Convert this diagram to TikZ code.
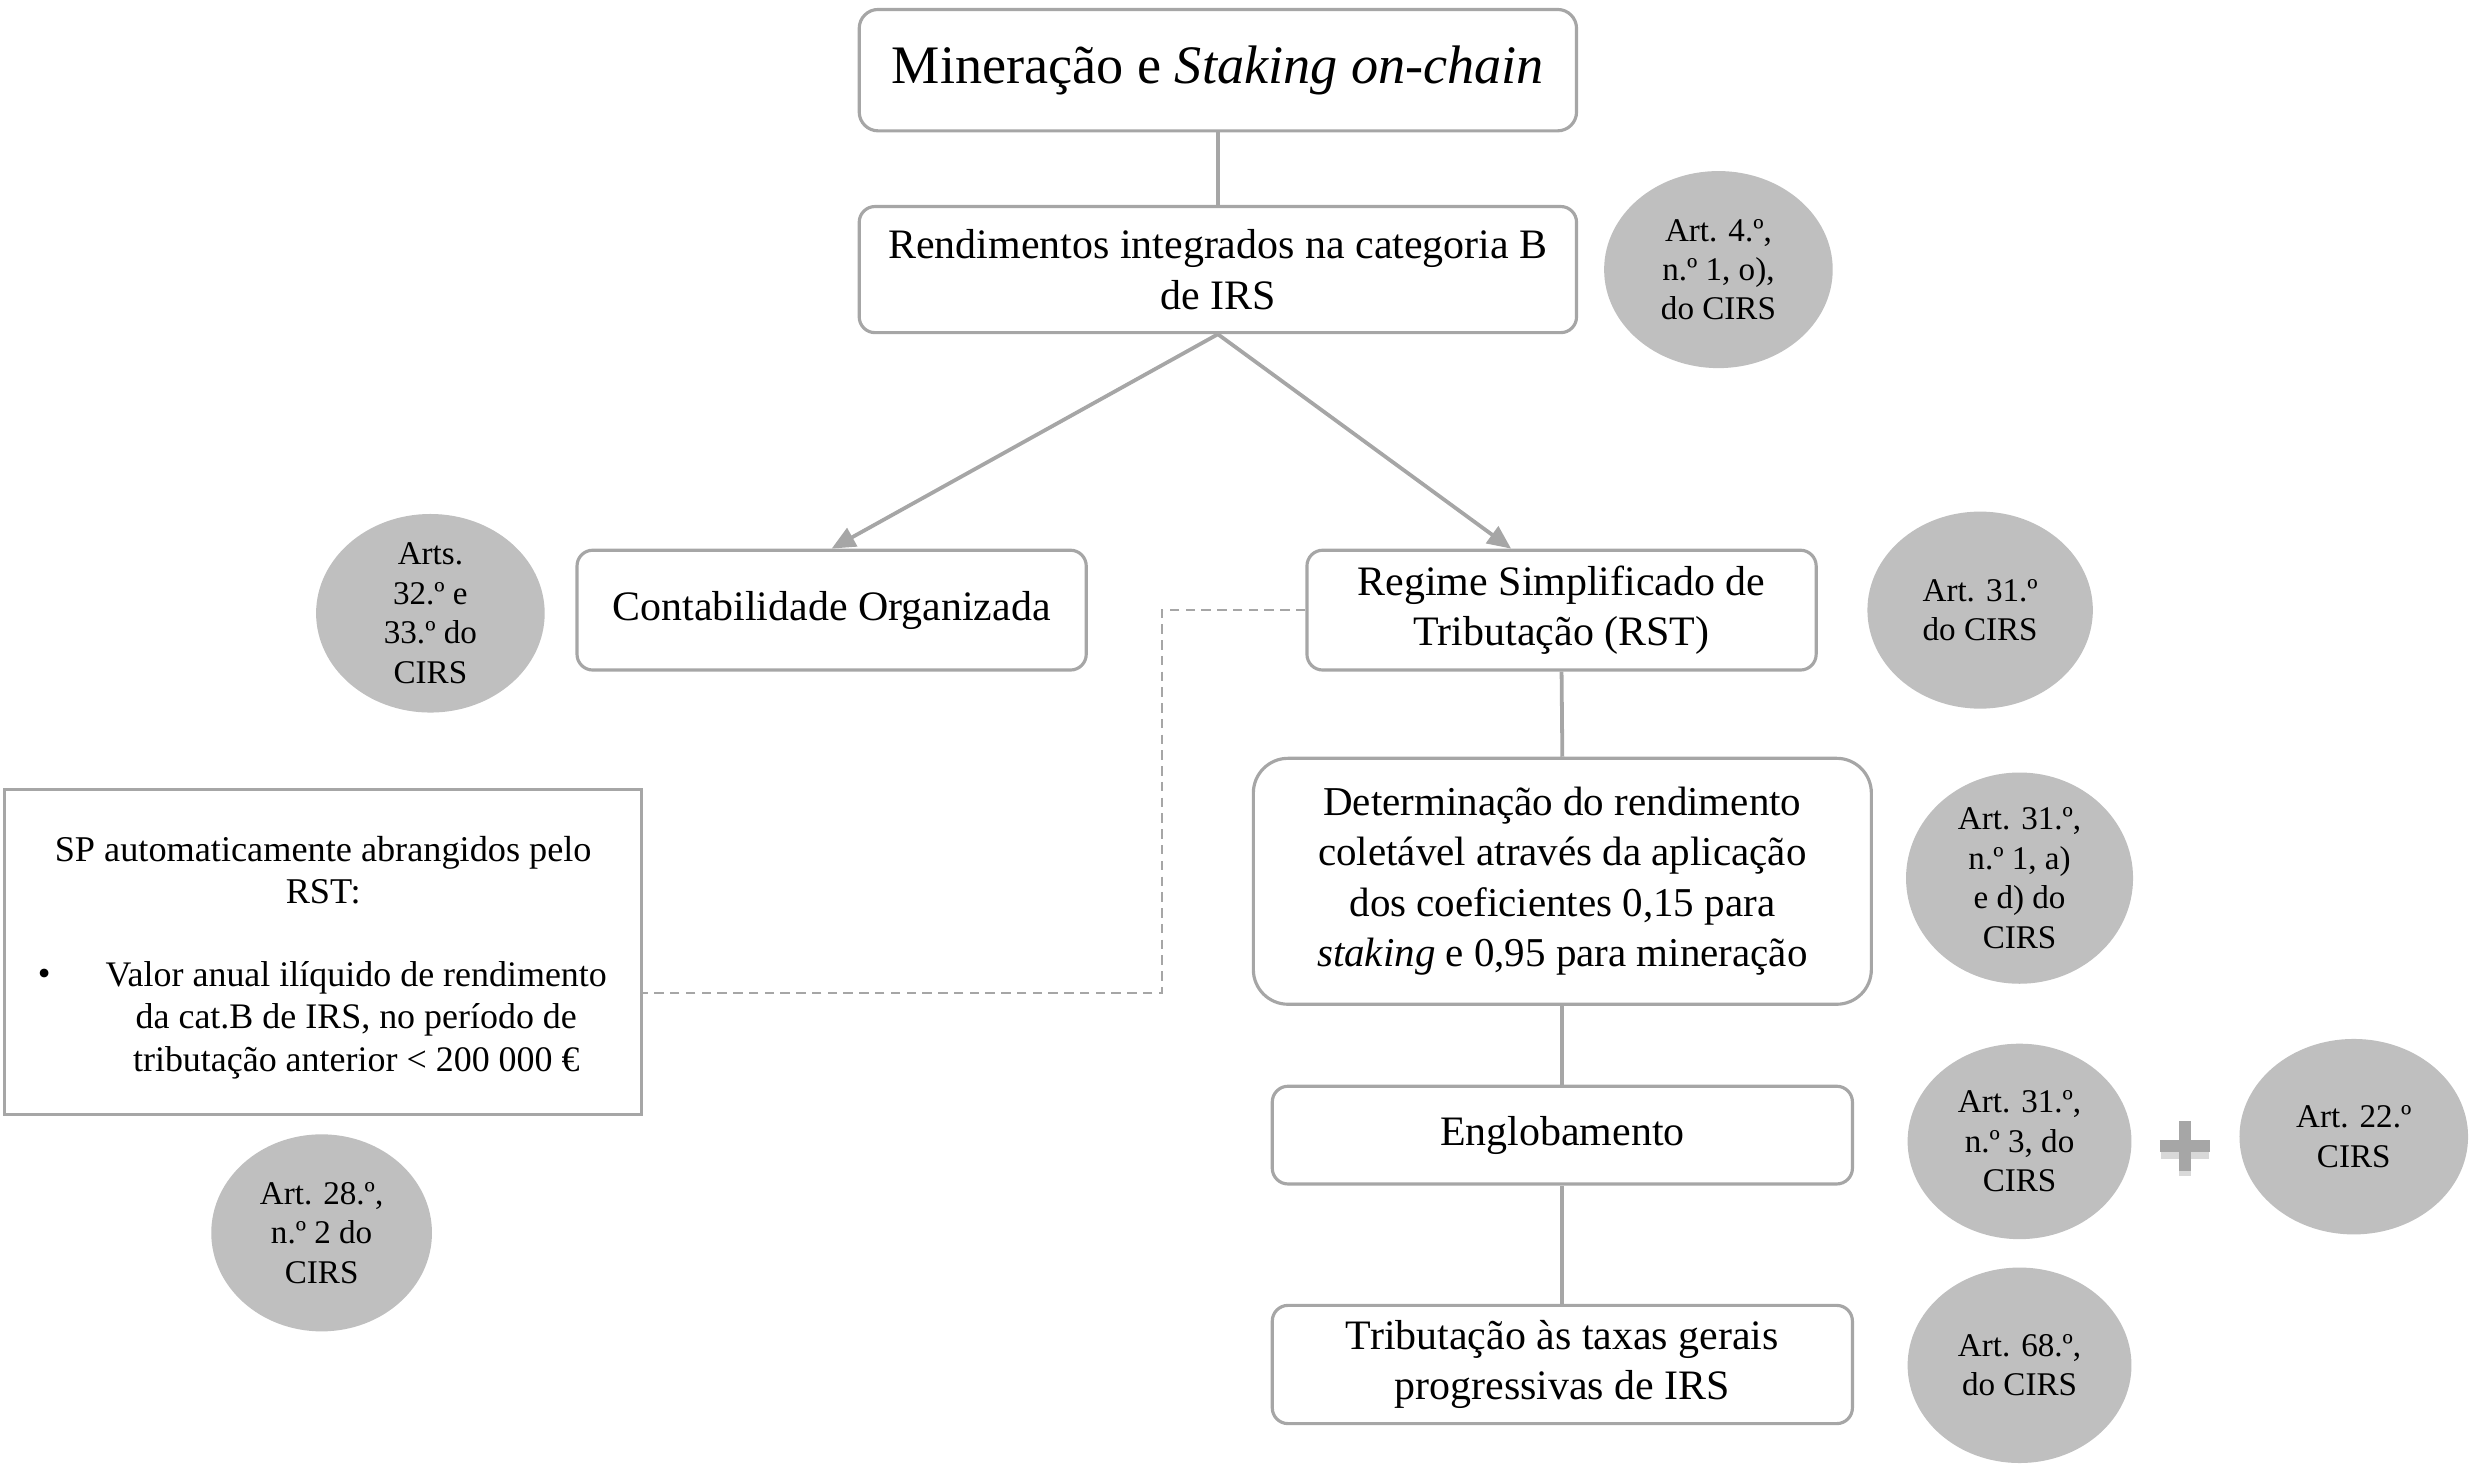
\documentclass[tikz,border=0pt]{standalone}
\usepackage{fontspec}
\setmainfont{Liberation Serif}
\usetikzlibrary{shapes.geometric,arrows.meta}
\definecolor{ellfill}{RGB}{191,191,191}
\definecolor{edge}{RGB}{166,166,166}
\tikzset{
  box/.style={draw=edge, line width=1pt, rounded corners=5pt, fill=white, align=center, inner sep=2pt, font=\fontsize{13.3}{16}\selectfont},
  ell/.style={ellipse, fill=ellfill, draw=none, inner sep=0pt, align=center, font=\fontsize{10.5}{12.5}\selectfont},
  link/.style={draw=edge, line width=1.2pt},
  arr/.style={draw=edge, line width=1.2pt, -{Triangle[length=7.5pt,width=6.5pt]}},
  dashlink/.style={draw=edge, line width=0.7pt, dash pattern=on 3pt off 2pt},
}
\begin{document}
\begin{tikzpicture}[x=0.5pt,y=-0.5pt]
\useasboundingbox (0,0) rectangle (1568,931);

% main boxes
\node[box, rounded corners=6pt, minimum width=227.5pt, minimum height=38.5pt, font=\fontsize{17.2}{20}\selectfont] (b1) at (772.5,44.5) {Mineração e \textit{Staking on-chain}};
\node[box, minimum width=227.5pt, minimum height=40pt] (b2) at (772.5,171) {Rendimentos integrados na categoria B\\de IRS};
\node[box, minimum width=161.5pt, minimum height=38pt] (co) at (527.5,387) {Contabilidade Organizada};
\node[box, minimum width=161.5pt, minimum height=38pt] (rst) at (990.5,387) {Regime Simplificado de\\Tributação (RST)};
\node[box, rounded corners=11pt, minimum width=196pt, minimum height=78pt, font=\fontsize{13}{16}\selectfont] (det) at (991,559) {Determinação do rendimento\\coletável através da aplicação\\dos coeficientes 0,15 para\\\textit{staking} e 0,95 para mineração};
\node[box, minimum width=184pt, minimum height=31pt] (eng) at (991,720) {Englobamento};
\node[box, minimum width=184pt, minimum height=37.5pt] (tri) at (991,865.5) {Tributação às taxas gerais\\progressivas de IRS};

% SP box
\node[draw=edge, line width=1pt, minimum width=202pt, minimum height=103pt, inner sep=0pt] (sp) at (205,604) {};
\node[align=center, font=\fontsize{11.5}{13.5}\selectfont] (sptitle) at (205,552) {SP automaticamente abrangidos pelo\\RST:};
\node[font=\fontsize{11.5}{13.5}\selectfont] (spbul) at (28,620) {•};
\node[align=center, font=\fontsize{11.4}{13.5}\selectfont] (spitem) at (226,647) {Valor anual ilíquido de rendimento\\da cat.B de IRS, no período de\\tributação anterior < 200 000 €};

% ellipses
\node[ell, minimum width=72.5pt, minimum height=62.5pt] (e1) at (1090,171) {Art. 4.º,\\n.º 1, o),\\do CIRS};
\node[ell, minimum width=72.5pt, minimum height=58pt] (e2) at (273,389) {Arts.\\32.º e\\33.º do\\CIRS};
\node[ell, minimum width=71.5pt, minimum height=62.5pt] (e3) at (1256,387) {Art. 31.º\\do CIRS};
\node[ell, minimum width=70pt, minimum height=62.5pt] (e4) at (204,782) {Art. 28.º,\\n.º 2 do\\CIRS};
\node[ell, minimum width=72pt, minimum height=67pt] (e5) at (1281,557) {Art. 31.º,\\n.º 1, a)\\e d) do\\CIRS};
\node[ell, minimum width=71pt, minimum height=62pt] (e6) at (1281,724) {Art. 31.º,\\n.º 3, do\\CIRS};
\node[ell, minimum width=72.5pt, minimum height=62pt] (e7) at (1493,721) {Art. 22.º\\CIRS};
\node[ell, minimum width=71pt, minimum height=62pt] (e8) at (1281,866) {Art. 68.º,\\do CIRS};

% plus sign
\coordinate (pl) at (1386,727);
\draw[line width=4pt, draw=black!25, opacity=0.6] ([shift={(-15,4)}]pl) -- ([shift={(15,4)}]pl);
\draw[line width=4pt, draw=black!25, opacity=0.6] ([shift={(0,-11)}]pl) -- ([shift={(0,19)}]pl);
\draw[line width=4pt, draw=edge] ([shift={(-16,0)}]pl) -- ([shift={(16,0)}]pl);
\draw[line width=4pt, draw=edge] ([shift={(0,-16)}]pl) -- ([shift={(0,16)}]pl);

% connectors
\draw[link] (b1.south) -- (b2.north);
\draw[arr] (b2.south) -- (co.north);
\draw[arr] (b2.south) -- ([xshift=-16pt]rst.north);
\draw[link] (rst.south) -- (det.north);
\draw[link] (det.south) -- (eng.north);
\draw[link] (eng.south) -- (tri.north);
\draw[dashlink] (rst.west) -- ++(-91,0) |- ([yshift=-13pt]sp.east);
\end{tikzpicture}
\end{document}
